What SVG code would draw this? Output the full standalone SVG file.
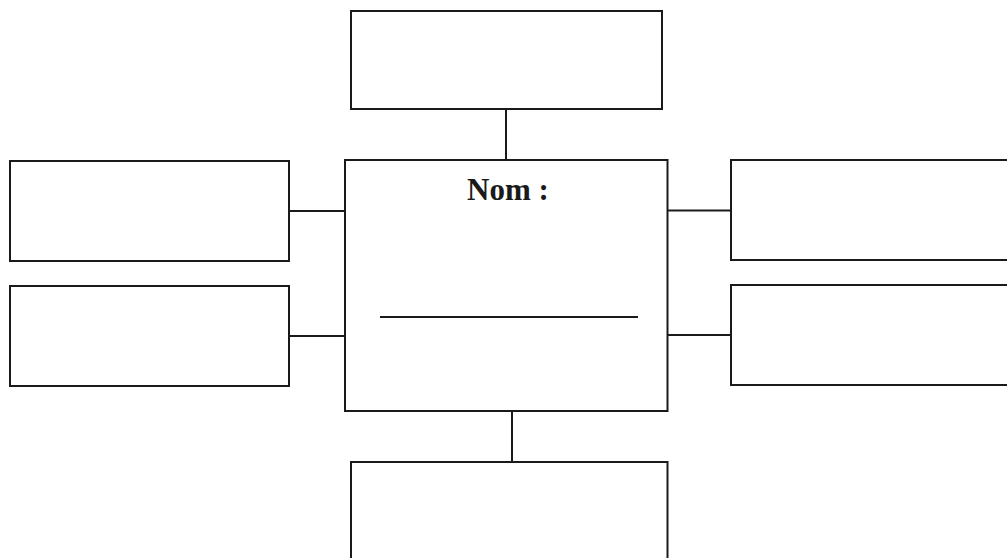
<svg xmlns="http://www.w3.org/2000/svg" width="1007" height="558" viewBox="0 0 1007 558">
<style>
.box{fill:none;stroke:#1a1a1a;stroke-width:2}
.conn{stroke:#1a1a1a;stroke-width:2;fill:none}
.title{font-family:"Liberation Serif","Times New Roman",serif;font-weight:bold;font-size:31px;fill:#1a1a1a}
</style>
<rect width="1007" height="558" fill="#ffffff"/>
<g id="connectors">
<line class="conn" x1="506" y1="109" x2="506" y2="160"/>
<line class="conn" x1="289" y1="211" x2="345" y2="211"/>
<line class="conn" x1="289" y1="336" x2="345" y2="336"/>
<line class="conn" x1="667" y1="210.5" x2="731" y2="210.5"/>
<line class="conn" x1="667" y1="335" x2="731" y2="335"/>
<line class="conn" x1="512" y1="411" x2="512" y2="462"/>
</g>
<g id="node-top"><rect class="box" x="351" y="11" width="311" height="98"/></g>
<g id="node-center">
<rect class="box" x="345" y="160" width="322.5" height="251"/>
<text class="title" x="508" y="200" text-anchor="middle">Nom :</text>
<line class="conn" x1="380" y1="317" x2="638" y2="317"/>
</g>
<g id="node-left1"><rect class="box" x="10" y="161" width="279" height="100"/></g>
<g id="node-left2"><rect class="box" x="10" y="286" width="279" height="100"/></g>
<g id="node-right1"><rect class="box" x="731" y="160" width="290" height="100"/></g>
<g id="node-right2"><rect class="box" x="731" y="285" width="290" height="100"/></g>
<g id="node-bottom"><rect class="box" x="351" y="462" width="316.5" height="110"/></g>
</svg>
